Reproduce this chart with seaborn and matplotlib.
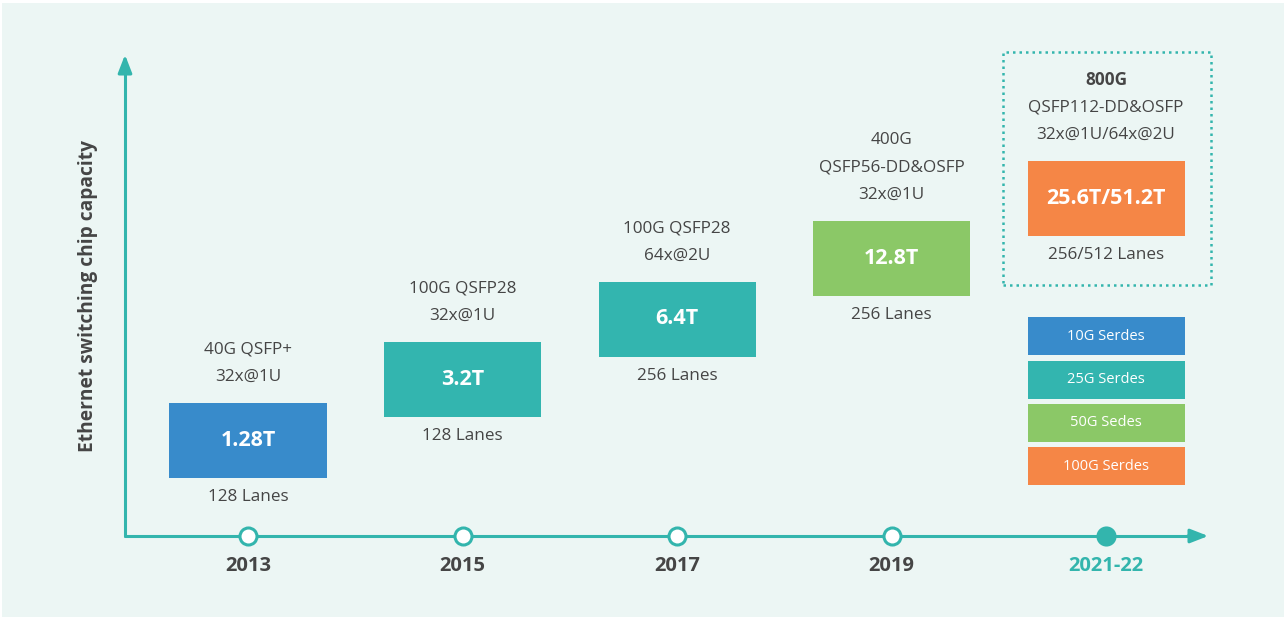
import matplotlib
matplotlib.use("Agg")
import matplotlib.pyplot as plt
import seaborn as sns
import pandas as pd
from matplotlib.patches import Rectangle

# ---------------- data ----------------
years = ["2013", "2015", "2017", "2019", "2021-22"]
capacity = ["1.28T", "3.2T", "6.4T", "12.8T", "25.6T/51.2T"]
step_level = [0, 1, 2, 3, 4]
lanes = ["128 Lanes", "128 Lanes", "256 Lanes", "256 Lanes", "256/512 Lanes"]
ports = [
    ["40G QSFP+", "32x@1U"],
    ["100G QSFP28", "32x@1U"],
    ["100G QSFP28", "64x@2U"],
    ["400G", "QSFP56-DD&OSFP", "32x@1U"],
    ["800G", "QSFP112-DD&OSFP", "32x@1U/64x@2U"],
]
serdes = ["10G Serdes", "25G Serdes", "50G Sedes", "100G Serdes"]
y_label = "Ethernet switching chip capacity"

# ---------------- style ----------------
BLUE, TEAL, GREEN, ORANGE = "#388bcb", "#33b5af", "#8bc867", "#f58646"
box_colors = [BLUE, TEAL, TEAL, GREEN, ORANGE]
serdes_colors = [BLUE, TEAL, GREEN, ORANGE]
AXIS = "#33b5ad"
TXT = "#454545"
BG = "#ecf6f4"

sns.set_theme(style="white")
plt.rcParams["font.family"] = ["Open Sans", "DejaVu Sans"]

W, H = 1286, 619
fig = plt.figure(figsize=(W / 100, H / 100), dpi=100, facecolor="white")
fig.patches.append(Rectangle((2 / W, 2 / H), 1282 / W, 614 / H,
                             transform=fig.transFigure, facecolor=BG,
                             edgecolor="none", zorder=-10))
ax = fig.add_axes([0, 0, 1, 1])
ax.set_facecolor("none")
for s in ax.spines.values():
    s.set_visible(False)

# pixel-to-data scale (layout only)
X0, DX = 248, 214.5
Y0, DY = 440, 60.5
ax.set_xlim((0 - X0) / DX, (W - X0) / DX)
ax.set_ylim((Y0 - H) / DY, (Y0 - 0) / DY)
ax.set_xticks([]); ax.set_yticks([])

xs = list(range(len(years)))
box_w = 157 / DX
box_h = 75 / DY

# capacity boxes
ax.bar(xs, [box_h] * len(xs), bottom=[l - box_h / 2 for l in step_level],
       width=box_w, color=box_colors, edgecolor="none", linewidth=0, zorder=3)
for x, l, cap, ln, pl in zip(xs, step_level, capacity, lanes, ports):
    ax.text(x, l, cap, ha="center", va="center", color="white",
            fontsize=15.5, fontweight="bold", zorder=4)
    ax.annotate(ln, (x, l - box_h / 2), xytext=(0, -13.7),
                textcoords="offset points", ha="center", va="center",
                color=TXT, fontsize=12.3)
    n = len(pl)
    for i, t in enumerate(pl):
        off = 18.7 + (n - 1 - i) * 19.8
        bold = (x == 4 and i == 0)
        ax.annotate(t, (x, l + box_h / 2), xytext=(0, off),
                    textcoords="offset points", ha="center", va="center",
                    color=TXT, fontsize=12.3,
                    fontweight="bold" if bold else "normal")

# dotted frame around latest generation
fx0, fx1 = (1003 - X0) / DX, (1211 - X0) / DX
fy0, fy1 = (Y0 - 285) / DY, (Y0 - 52) / DY
ax.add_patch(Rectangle((fx0, fy0), fx1 - fx0, fy1 - fy0, fill=False,
                       edgecolor=AXIS, linestyle=(0, (1, 1.6)), linewidth=1.8,
                       zorder=2))

# serdes legend boxes
s_h = 38 / DY
s_centers = [(Y0 - p) / DY for p in (336, 379.5, 422.5, 466)]
ax.bar([4] * 4, [s_h] * 4, bottom=[c - s_h / 2 for c in s_centers],
       width=box_w, color=serdes_colors, edgecolor="none", linewidth=0,
       zorder=3)
for c, t in zip(s_centers, serdes):
    ax.text(4, c, t, ha="center", va="center", color="white",
            fontsize=10.5, zorder=4)

# axes arrows
ax_y = (Y0 - 536) / DY
ax_x = (125 - X0) / DX
ax.plot([ax_x, ax_x], [ax_y, (Y0 - 60) / DY], color=AXIS, lw=2.2, zorder=2)
ax.plot([ax_x, (1200 - X0) / DX], [ax_y, ax_y], color=AXIS, lw=2.2, zorder=2)
ax.annotate("", xy=(ax_x, (Y0 - 52) / DY), xytext=(ax_x, (Y0 - 75) / DY),
            arrowprops=dict(arrowstyle="-|>,head_length=0.9,head_width=0.35",
                            color=AXIS, lw=2.2))
ax.annotate("", xy=((1211 - X0) / DX, ax_y), xytext=((1185 - X0) / DX, ax_y),
            arrowprops=dict(arrowstyle="-|>,head_length=0.9,head_width=0.35",
                            color=AXIS, lw=2.2))

# timeline markers via seaborn
df = pd.DataFrame({"x": xs, "y": [ax_y] * len(xs), "year": years})
sns.scatterplot(data=df.iloc[:-1], x="x", y="y", s=150, color="white",
                edgecolor=AXIS, linewidth=2.2, zorder=5, ax=ax, legend=False)
sns.scatterplot(data=df.iloc[-1:], x="x", y="y", s=210, color=AXIS,
                edgecolor=AXIS, linewidth=0, zorder=5, ax=ax, legend=False)
ax.set_xlabel(""); ax.set_ylabel("")
for x, yr in zip(xs, years):
    ax.annotate(yr, (x, ax_y), xytext=(0, -21.5), textcoords="offset points",
                ha="center", va="center", fontsize=14.5, fontweight="bold",
                color=AXIS if x == 4 else TXT)

# y axis label
ax.text((88 - X0) / DX, (Y0 - 296) / DY, y_label, rotation=90,
        ha="center", va="center", fontsize=13.8, fontweight="bold", color=TXT)

fig.savefig("out.png", dpi=100, facecolor="white")
